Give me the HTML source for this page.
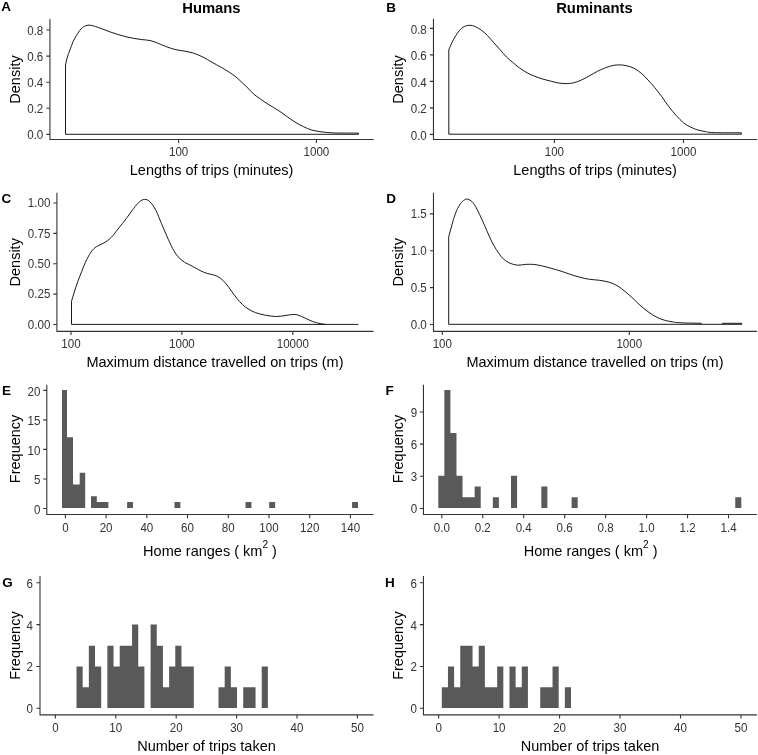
<!DOCTYPE html>
<html><head><meta charset="utf-8"><title>Figure</title>
<style>
html,body{margin:0;padding:0;background:#fff;}
body{width:758px;height:755px;overflow:hidden;}
svg{display:block;will-change:transform;}
text{font-family:"Liberation Sans",sans-serif;}
.tk{font-size:12.4px;fill:#333333;}
.at{font-size:14.5px;fill:#000;}
.tt{font-size:14.8px;font-weight:bold;fill:#000;}
.pl{font-size:13.5px;font-weight:bold;fill:#000;}
</style></head>
<body>
<svg width="758" height="755" viewBox="0 0 758 755">
<rect width="758" height="755" fill="#fff"/>
<path d="M49.95 19.6V139.45H373.1" fill="none" stroke="#000" stroke-width="1.1" stroke-linecap="square" stroke-opacity="0.8"/>
<path d="M46.35 134.4H49.95M46.35 108.3H49.95M46.35 82.2H49.95M46.35 56.1H49.95M46.35 30H49.95" stroke="#333" stroke-width="1.1"/>
<text transform="translate(43.3 139.45) scale(0.935 1)" class="tk" text-anchor="end">0.0</text>
<text transform="translate(43.3 113.35) scale(0.935 1)" class="tk" text-anchor="end">0.2</text>
<text transform="translate(43.3 87.25) scale(0.935 1)" class="tk" text-anchor="end">0.4</text>
<text transform="translate(43.3 61.15) scale(0.935 1)" class="tk" text-anchor="end">0.6</text>
<text transform="translate(43.3 35.05) scale(0.935 1)" class="tk" text-anchor="end">0.8</text>
<path d="M178.65 139.45V143.05M316.4 139.45V143.05" stroke="#333" stroke-width="1.1"/>
<text transform="translate(178.65 155.95) scale(0.935 1)" class="tk" text-anchor="middle">100</text>
<text transform="translate(316.4 155.95) scale(0.935 1)" class="tk" text-anchor="middle">1000</text>
<text x="211.6" y="175" class="at" text-anchor="middle">Lengths of trips (minutes)</text>
<text transform="translate(20.1 79.5) rotate(-90)" class="at" text-anchor="middle">Density</text>
<path d="M358.5 134.3H65.5V65.1C66.1 62.47 66.57 59.72 67.3 57.2C68.03 54.68 68.92 52.63 69.9 50C70.88 47.37 72.1 43.83 73.2 41.4C74.3 38.97 75.18 37.48 76.5 35.4C77.82 33.32 79.57 30.5 81.1 28.9C82.63 27.3 84.17 26.42 85.7 25.8C87.23 25.18 88.65 25.07 90.3 25.2C91.95 25.33 93.62 25.98 95.6 26.6C97.58 27.22 99.78 28.02 102.2 28.9C104.62 29.78 107.47 30.97 110.1 31.9C112.73 32.83 115.35 33.68 118 34.5C120.65 35.32 123.35 36.15 126 36.8C128.65 37.45 131.27 37.93 133.9 38.4C136.53 38.87 139.12 39.25 141.8 39.6C144.48 39.95 147.32 39.9 150 40.5C152.68 41.1 155.27 42.2 157.9 43.2C160.53 44.2 162.93 45.45 165.8 46.5C168.67 47.55 172.02 48.73 175.1 49.5C178.18 50.27 181.23 50.5 184.3 51.1C187.37 51.7 190.42 52.12 193.5 53.1C196.58 54.08 199.72 55.47 202.8 57C205.88 58.53 208.93 60.58 212 62.3C215.07 64.02 218.33 65.65 221.2 67.3C224.07 68.95 226.77 70.62 229.2 72.2C231.63 73.78 233.62 75.03 235.8 76.8C237.98 78.57 240.12 80.75 242.3 82.8C244.48 84.85 247 87.22 248.9 89.1C250.8 90.98 251.75 92.42 253.7 94.1C255.65 95.78 258.02 97.4 260.6 99.2C263.18 101 266.35 103.1 269.2 104.9C272.05 106.7 274.85 108.15 277.7 110C280.55 111.85 283.43 114 286.3 116C289.17 118 292.03 120.22 294.9 122C297.77 123.78 300.65 125.35 303.5 126.7C306.35 128.05 308.93 129.23 312 130.1C315.07 130.97 318.73 131.45 321.9 131.9C325.07 132.35 327.98 132.61 331 132.8C334.02 132.99 335.42 133 340 133.05C344.58 133.1 352.33 133.08 358.5 133.1V134.3" fill="none" stroke="#000" stroke-width="1.0" stroke-linejoin="round" stroke-opacity="0.9"/>
<text x="211.4" y="12.9" class="tt" text-anchor="middle">Humans</text>
<text x="1.2" y="11.3" class="pl">A</text>
<path d="M433.47 19.5V139.5H756.5" fill="none" stroke="#000" stroke-width="1.1" stroke-linecap="square" stroke-opacity="0.8"/>
<path d="M429.87 134.35H433.47M429.87 107.86H433.47M429.87 81.37H433.47M429.87 54.88H433.47M429.87 28.39H433.47" stroke="#333" stroke-width="1.1"/>
<text transform="translate(426.8 139.5) scale(0.935 1)" class="tk" text-anchor="end">0.0</text>
<text transform="translate(426.8 113.01) scale(0.935 1)" class="tk" text-anchor="end">0.2</text>
<text transform="translate(426.8 86.52) scale(0.935 1)" class="tk" text-anchor="end">0.4</text>
<text transform="translate(426.8 60.03) scale(0.935 1)" class="tk" text-anchor="end">0.6</text>
<text transform="translate(426.8 33.54) scale(0.935 1)" class="tk" text-anchor="end">0.8</text>
<path d="M554.4 139.5V143.1M683.5 139.5V143.1" stroke="#333" stroke-width="1.1"/>
<text transform="translate(554.4 156) scale(0.935 1)" class="tk" text-anchor="middle">100</text>
<text transform="translate(683.5 156) scale(0.935 1)" class="tk" text-anchor="middle">1000</text>
<text x="595.1" y="175" class="at" text-anchor="middle">Lengths of trips (minutes)</text>
<text transform="translate(403.4 79.5) rotate(-90)" class="at" text-anchor="middle">Density</text>
<path d="M741.4 134.2H448.8V49.8C449.83 47.43 450.73 45.07 451.9 42.7C453.07 40.33 454.35 37.85 455.8 35.6C457.25 33.35 459.02 30.78 460.6 29.2C462.18 27.62 463.72 26.75 465.3 26.1C466.88 25.45 468.52 25.25 470.1 25.3C471.68 25.35 472.95 25.62 474.8 26.4C476.65 27.18 479.08 28.47 481.2 30C483.32 31.53 485.4 33.48 487.5 35.6C489.6 37.72 491.68 40.33 493.8 42.7C495.92 45.07 498.08 47.42 500.2 49.8C502.32 52.18 504.4 54.88 506.5 57C508.6 59.12 510.68 60.72 512.8 62.5C514.92 64.28 516.82 65.98 519.2 67.7C521.58 69.42 524.47 71.35 527.1 72.8C529.73 74.25 532.37 75.35 535 76.4C537.63 77.45 540.33 78.33 542.9 79.1C545.47 79.87 547.9 80.37 550.4 81C552.9 81.63 555.33 82.47 557.9 82.9C560.47 83.33 563.17 83.62 565.8 83.6C568.43 83.58 571.05 83.42 573.7 82.8C576.35 82.18 579.05 81.08 581.7 79.9C584.35 78.72 586.97 77.13 589.6 75.7C592.23 74.27 594.87 72.62 597.5 71.3C600.13 69.98 602.77 68.78 605.4 67.8C608.03 66.82 610.92 65.88 613.3 65.4C615.68 64.92 617.58 64.87 619.7 64.9C621.82 64.93 623.63 65.05 626 65.6C628.37 66.15 631.27 66.85 633.9 68.2C636.53 69.55 639.45 71.73 641.8 73.7C644.15 75.67 645.88 77.73 648 80C650.12 82.27 652.2 84.52 654.5 87.3C656.8 90.08 659.38 93.43 661.8 96.7C664.22 99.97 666.58 103.75 669 106.9C671.42 110.05 673.88 112.95 676.3 115.6C678.72 118.25 681.08 120.87 683.5 122.8C685.92 124.73 688.37 125.98 690.8 127.2C693.23 128.42 695.68 129.37 698.1 130.1C700.52 130.83 703.32 131.22 705.3 131.6C707.28 131.98 707.55 132.21 710 132.4C712.45 132.59 714.77 132.68 720 132.75C725.23 132.82 734.27 132.78 741.4 132.8V134.2" fill="none" stroke="#000" stroke-width="1.0" stroke-linejoin="round" stroke-opacity="0.9"/>
<text x="594.4" y="12.9" class="tt" text-anchor="middle">Ruminants</text>
<text x="386.3" y="11.5" class="pl">B</text>
<path d="M56.9 193.2V331.4H373" fill="none" stroke="#000" stroke-width="1.1" stroke-linecap="square" stroke-opacity="0.8"/>
<path d="M53.3 324.45H56.9M53.3 294.1H56.9M53.3 263.75H56.9M53.3 233.4H56.9M53.3 203H56.9" stroke="#333" stroke-width="1.1"/>
<text transform="translate(50.4 328.8) scale(0.935 1)" class="tk" text-anchor="end">0.00</text>
<text transform="translate(50.4 298.45) scale(0.935 1)" class="tk" text-anchor="end">0.25</text>
<text transform="translate(50.4 268.1) scale(0.935 1)" class="tk" text-anchor="end">0.50</text>
<text transform="translate(50.4 237.75) scale(0.935 1)" class="tk" text-anchor="end">0.75</text>
<text transform="translate(50.4 207.35) scale(0.935 1)" class="tk" text-anchor="end">1.00</text>
<path d="M71 331.4V335M181.9 331.4V335M292.8 331.4V335" stroke="#333" stroke-width="1.1"/>
<text transform="translate(71 347.9) scale(0.935 1)" class="tk" text-anchor="middle">100</text>
<text transform="translate(181.9 347.9) scale(0.935 1)" class="tk" text-anchor="middle">1000</text>
<text transform="translate(292.8 347.9) scale(0.935 1)" class="tk" text-anchor="middle">10000</text>
<text x="215" y="366.9" class="at" text-anchor="middle">Maximum distance travelled on trips (m)</text>
<text transform="translate(20.1 262.3) rotate(-90)" class="at" text-anchor="middle">Density</text>
<path d="M325.5 324.4H71.5V301.3C72.43 298.2 73.22 295.4 74.3 292C75.38 288.6 76.77 284.3 78 280.9C79.23 277.5 80.47 274.7 81.7 271.6C82.93 268.5 83.85 265.55 85.4 262.3C86.95 259.05 89.15 254.72 91 252.1C92.85 249.48 94.35 248.13 96.5 246.6C98.65 245.07 101.42 244.45 103.9 242.9C106.38 241.35 108.92 239.78 111.4 237.3C113.88 234.82 116.33 231.1 118.8 228C121.27 224.9 123.73 221.95 126.2 218.7C128.67 215.45 131.43 211.27 133.6 208.5C135.77 205.73 137.35 203.63 139.2 202.1C141.05 200.57 142.85 199.3 144.7 199.3C146.55 199.3 148.43 200.25 150.3 202.1C152.17 203.95 154.05 206.85 155.9 210.4C157.75 213.95 159.55 219.07 161.4 223.4C163.25 227.73 165.13 232.23 167 236.4C168.87 240.57 170.75 245 172.6 248.4C174.45 251.8 176.1 254.48 178.1 256.8C180.1 259.12 182.62 260.93 184.6 262.3C186.58 263.67 187.43 263.63 190 265C192.57 266.37 197.1 269.08 200 270.5C202.9 271.92 204.93 272.7 207.4 273.5C209.87 274.3 212.65 274.53 214.8 275.3C216.95 276.07 218.45 276.72 220.3 278.1C222.15 279.48 224.05 281.45 225.9 283.6C227.75 285.75 229.57 288.53 231.4 291C233.23 293.47 235.05 296.15 236.9 298.4C238.75 300.65 240.65 302.75 242.5 304.5C244.35 306.25 245.85 307.55 248 308.9C250.15 310.25 252.63 311.58 255.4 312.6C258.17 313.62 261.22 314.35 264.6 315C267.98 315.65 272.3 316.4 275.7 316.5C279.1 316.6 282.22 315.93 285 315.6C287.78 315.27 290.25 314.6 292.4 314.5C294.55 314.4 295.75 314.38 297.9 315C300.05 315.62 302.83 317.12 305.3 318.2C307.77 319.28 310.23 320.6 312.7 321.5C315.17 322.4 317.97 323.12 320.1 323.6C322.23 324.08 323.7 324.13 325.5 324.4" fill="none" stroke="#000" stroke-width="1.0" stroke-linejoin="round" stroke-opacity="0.9"/>
<path d="M325.5 324.4H358.4" stroke="#000" stroke-width="1" stroke-opacity="0.9"/>
<text x="1.6" y="203.2" class="pl">C</text>
<path d="M433.47 193.2V331.4H756.5" fill="none" stroke="#000" stroke-width="1.1" stroke-linecap="square" stroke-opacity="0.8"/>
<path d="M429.87 324.45H433.47M429.87 287.6H433.47M429.87 250.7H433.47M429.87 213.9H433.47" stroke="#333" stroke-width="1.1"/>
<text transform="translate(426.8 329) scale(0.935 1)" class="tk" text-anchor="end">0.0</text>
<text transform="translate(426.8 292.15) scale(0.935 1)" class="tk" text-anchor="end">0.5</text>
<text transform="translate(426.8 255.25) scale(0.935 1)" class="tk" text-anchor="end">1.0</text>
<text transform="translate(426.8 218.45) scale(0.935 1)" class="tk" text-anchor="end">1.5</text>
<path d="M442.3 331.4V335M629.3 331.4V335" stroke="#333" stroke-width="1.1"/>
<text transform="translate(442.3 347.9) scale(0.935 1)" class="tk" text-anchor="middle">100</text>
<text transform="translate(629.3 347.9) scale(0.935 1)" class="tk" text-anchor="middle">1000</text>
<text x="595" y="366.9" class="at" text-anchor="middle">Maximum distance travelled on trips (m)</text>
<text transform="translate(403.4 262.3) rotate(-90)" class="at" text-anchor="middle">Density</text>
<path d="M701 324.3H448.7V236.7C449.5 233.8 450.3 230.9 451.1 228C451.9 225.1 452.58 222.2 453.5 219.3C454.42 216.4 455.42 213.23 456.6 210.6C457.78 207.97 459.28 205.3 460.6 203.5C461.92 201.7 463.32 200.52 464.5 199.8C465.68 199.08 466.5 198.93 467.7 199.2C468.9 199.47 470.38 200.17 471.7 201.4C473.02 202.63 474.28 204.42 475.6 206.6C476.92 208.78 478.15 211.47 479.6 214.5C481.05 217.53 482.72 221.23 484.3 224.8C485.88 228.37 487.52 232.47 489.1 235.9C490.68 239.33 492.22 242.55 493.8 245.4C495.38 248.25 497.02 250.75 498.6 253C500.18 255.25 501.45 257.22 503.3 258.9C505.15 260.58 507.32 262.05 509.7 263.1C512.08 264.15 514.97 264.98 517.6 265.2C520.23 265.42 522.87 264.53 525.5 264.4C528.13 264.27 530.77 264.18 533.4 264.4C536.03 264.62 538.4 265.07 541.3 265.7C544.2 266.33 547.7 267.35 550.8 268.2C553.9 269.05 556.73 269.8 559.9 270.8C563.07 271.8 566.5 273.13 569.8 274.2C573.1 275.27 576.4 276.35 579.7 277.2C583 278.05 586.3 278.78 589.6 279.3C592.9 279.82 596.2 279.8 599.5 280.3C602.8 280.8 606.43 281.4 609.4 282.3C612.37 283.2 614.67 284.15 617.3 285.7C619.93 287.25 622.57 289.47 625.2 291.6C627.83 293.73 630.47 296.08 633.1 298.5C635.73 300.92 638.35 303.78 641 306.1C643.65 308.42 646.35 310.53 649 312.4C651.65 314.27 654.27 315.98 656.9 317.3C659.53 318.62 662.17 319.53 664.8 320.3C667.43 321.07 670.73 321.53 672.7 321.9C674.67 322.27 674.4 322.32 676.6 322.5C678.8 322.68 681.83 322.88 685.9 323C689.97 323.12 695.97 323.17 701 323.25L702 324.3M722 324.3L722.5 323.3H741.8V324.3" fill="none" stroke="#000" stroke-width="1.0" stroke-linejoin="round" stroke-opacity="0.9"/>
<path d="M701 324.3H741.8" stroke="#000" stroke-width="1" stroke-opacity="0.9"/>
<text x="386.3" y="203.2" class="pl">D</text>
<path d="M46.8 385.2V514.55H372.9" fill="none" stroke="#000" stroke-width="1.1" stroke-linecap="square" stroke-opacity="0.8"/>
<path d="M43.2 508.46H46.8M43.2 478.94H46.8M43.2 449.42H46.8M43.2 419.9H46.8M43.2 390.39H46.8" stroke="#333" stroke-width="1.1"/>
<text transform="translate(40.4 513.86) scale(0.935 1)" class="tk" text-anchor="end">0</text>
<text transform="translate(40.4 484.34) scale(0.935 1)" class="tk" text-anchor="end">5</text>
<text transform="translate(40.4 454.82) scale(0.935 1)" class="tk" text-anchor="end">10</text>
<text transform="translate(40.4 425.3) scale(0.935 1)" class="tk" text-anchor="end">15</text>
<text transform="translate(40.4 395.79) scale(0.935 1)" class="tk" text-anchor="end">20</text>
<path d="M65.38 514.55V518.15M106.1 514.55V518.15M146.82 514.55V518.15M187.55 514.55V518.15M228.27 514.55V518.15M268.99 514.55V518.15M309.71 514.55V518.15M350.43 514.55V518.15" stroke="#333" stroke-width="1.1"/>
<text transform="translate(65.38 531.85) scale(0.935 1)" class="tk" text-anchor="middle">0</text>
<text transform="translate(106.1 531.85) scale(0.935 1)" class="tk" text-anchor="middle">20</text>
<text transform="translate(146.82 531.85) scale(0.935 1)" class="tk" text-anchor="middle">40</text>
<text transform="translate(187.55 531.85) scale(0.935 1)" class="tk" text-anchor="middle">60</text>
<text transform="translate(228.27 531.85) scale(0.935 1)" class="tk" text-anchor="middle">80</text>
<text transform="translate(268.99 531.85) scale(0.935 1)" class="tk" text-anchor="middle">100</text>
<text transform="translate(309.71 531.85) scale(0.935 1)" class="tk" text-anchor="middle">120</text>
<text transform="translate(350.43 531.85) scale(0.935 1)" class="tk" text-anchor="middle">140</text>
<text x="210" y="555.6" class="at" text-anchor="middle">Home ranges ( km<tspan dy="-8.1" font-size="10.15">2</tspan><tspan dy="8.1"> )</tspan></text>
<text transform="translate(20.1 448.9) rotate(-90)" class="at" text-anchor="middle">Frequency</text>
<path d="M62 508V390.1H67V508ZM67 508V437.26H73V508ZM73 508V484.42H79.7V508ZM79.7 508V472.63H85.2V508ZM91 508V496.21H96.8V508ZM96.8 508V502.11H102.6V508ZM102.6 508V502.11H108.4V508Z" fill="#595959"/>
<path d="M127.12 508V502.11H133.04V508ZM174.48 508V502.11H180.4V508ZM245.52 508V502.11H251.44V508ZM269.2 508V502.11H275.12V508ZM352.08 508V502.11H358V508Z" fill="#595959"/>
<text x="1.9" y="395" class="pl">E</text>
<path d="M423.45 385.2V514.55H756.3" fill="none" stroke="#000" stroke-width="1.1" stroke-linecap="square" stroke-opacity="0.8"/>
<path d="M419.85 508.46H423.45M419.85 476.3H423.45M419.85 444.17H423.45M419.85 412.02H423.45" stroke="#333" stroke-width="1.1"/>
<text transform="translate(417.2 513.36) scale(0.935 1)" class="tk" text-anchor="end">0</text>
<text transform="translate(417.2 481.2) scale(0.935 1)" class="tk" text-anchor="end">3</text>
<text transform="translate(417.2 449.07) scale(0.935 1)" class="tk" text-anchor="end">6</text>
<text transform="translate(417.2 416.92) scale(0.935 1)" class="tk" text-anchor="end">9</text>
<path d="M441.8 514.55V518.15M482.76 514.55V518.15M523.72 514.55V518.15M564.68 514.55V518.15M605.64 514.55V518.15M646.6 514.55V518.15M687.56 514.55V518.15M728.52 514.55V518.15" stroke="#333" stroke-width="1.1"/>
<text transform="translate(441.8 531.85) scale(0.935 1)" class="tk" text-anchor="middle">0.0</text>
<text transform="translate(482.76 531.85) scale(0.935 1)" class="tk" text-anchor="middle">0.2</text>
<text transform="translate(523.72 531.85) scale(0.935 1)" class="tk" text-anchor="middle">0.4</text>
<text transform="translate(564.68 531.85) scale(0.935 1)" class="tk" text-anchor="middle">0.6</text>
<text transform="translate(605.64 531.85) scale(0.935 1)" class="tk" text-anchor="middle">0.8</text>
<text transform="translate(646.6 531.85) scale(0.935 1)" class="tk" text-anchor="middle">1.0</text>
<text transform="translate(687.56 531.85) scale(0.935 1)" class="tk" text-anchor="middle">1.2</text>
<text transform="translate(728.52 531.85) scale(0.935 1)" class="tk" text-anchor="middle">1.4</text>
<text x="590.6" y="555.6" class="at" text-anchor="middle">Home ranges ( km<tspan dy="-8.1" font-size="10.15">2</tspan><tspan dy="8.1"> )</tspan></text>
<text transform="translate(403.2 448.9) rotate(-90)" class="at" text-anchor="middle">Frequency</text>
<path d="M438.3 508V475.84H444.36V508ZM444.36 508V390.08H450.42V508ZM450.42 508V432.96H456.48V508ZM456.48 508V475.84H462.54V508ZM462.54 508V497.28H468.6V508ZM468.6 508V497.28H474.66V508ZM474.66 508V486.56H480.72V508ZM492.84 508V497.28H498.9V508ZM511.02 508V475.84H517.08V508ZM541.32 508V486.56H547.38V508ZM571.62 508V497.28H577.68V508ZM735.24 508V497.28H741.3V508Z" fill="#595959"/>
<text x="385.6" y="395" class="pl">F</text>
<path d="M40 576.6V714.9H373" fill="none" stroke="#000" stroke-width="1.1" stroke-linecap="square" stroke-opacity="0.8"/>
<path d="M36.4 708.2H40M36.4 666.5H40M36.4 624.6H40M36.4 582.8H40" stroke="#333" stroke-width="1.1"/>
<text transform="translate(33 713.1) scale(0.935 1)" class="tk" text-anchor="end">0</text>
<text transform="translate(33 671.4) scale(0.935 1)" class="tk" text-anchor="end">2</text>
<text transform="translate(33 629.5) scale(0.935 1)" class="tk" text-anchor="end">4</text>
<text transform="translate(33 587.7) scale(0.935 1)" class="tk" text-anchor="end">6</text>
<path d="M55.38 714.9V718.5M115.79 714.9V718.5M176.2 714.9V718.5M236.61 714.9V718.5M297.02 714.9V718.5M357.43 714.9V718.5" stroke="#333" stroke-width="1.1"/>
<text transform="translate(55.38 732.3) scale(0.935 1)" class="tk" text-anchor="middle">0</text>
<text transform="translate(115.79 732.3) scale(0.935 1)" class="tk" text-anchor="middle">10</text>
<text transform="translate(176.2 732.3) scale(0.935 1)" class="tk" text-anchor="middle">20</text>
<text transform="translate(236.61 732.3) scale(0.935 1)" class="tk" text-anchor="middle">30</text>
<text transform="translate(297.02 732.3) scale(0.935 1)" class="tk" text-anchor="middle">40</text>
<text transform="translate(357.43 732.3) scale(0.935 1)" class="tk" text-anchor="middle">50</text>
<text x="206.5" y="751" class="at" text-anchor="middle">Number of trips taken</text>
<text transform="translate(20.1 645.6) rotate(-90)" class="at" text-anchor="middle">Frequency</text>
<path d="M76.5 708V666.4H82.67V708ZM82.67 708V687.2H88.85V708ZM88.85 708V645.7H95.02V708ZM95.02 708V666.4H101.2V708ZM107.37 708V645.7H113.54V708ZM113.54 708V666.4H119.72V708ZM119.72 708V645.7H125.89V708ZM125.89 708V645.7H132.07V708ZM132.07 708V624.5H138.24V708ZM138.24 708V666.4H144.41V708ZM150.59 708V624.5H156.76V708ZM156.76 708V645.7H162.94V708ZM162.94 708V687.2H169.11V708ZM169.11 708V666.4H175.28V708ZM175.28 708V645.7H181.46V708ZM181.46 708V666.4H187.63V708ZM187.63 708V666.4H193.81V708ZM218.5 708V687.2H224.68V708ZM224.68 708V666.4H230.85V708ZM230.85 708V687.2H237.02V708ZM243.2 708V687.2H249.37V708ZM249.37 708V687.2H255.55V708ZM261.72 708V666.4H267.89V708Z" fill="#595959"/>
<text x="2.2" y="587" class="pl">G</text>
<path d="M423.45 576.6V714.9H756.4" fill="none" stroke="#000" stroke-width="1.1" stroke-linecap="square" stroke-opacity="0.8"/>
<path d="M419.85 708.2H423.45M419.85 666.5H423.45M419.85 624.6H423.45M419.85 582.8H423.45" stroke="#333" stroke-width="1.1"/>
<text transform="translate(417 713.1) scale(0.935 1)" class="tk" text-anchor="end">0</text>
<text transform="translate(417 671.4) scale(0.935 1)" class="tk" text-anchor="end">2</text>
<text transform="translate(417 629.5) scale(0.935 1)" class="tk" text-anchor="end">4</text>
<text transform="translate(417 587.7) scale(0.935 1)" class="tk" text-anchor="end">6</text>
<path d="M438.64 714.9V718.5M499.1 714.9V718.5M559.57 714.9V718.5M620.03 714.9V718.5M680.5 714.9V718.5M740.96 714.9V718.5" stroke="#333" stroke-width="1.1"/>
<text transform="translate(438.64 732.3) scale(0.935 1)" class="tk" text-anchor="middle">0</text>
<text transform="translate(499.1 732.3) scale(0.935 1)" class="tk" text-anchor="middle">10</text>
<text transform="translate(559.57 732.3) scale(0.935 1)" class="tk" text-anchor="middle">20</text>
<text transform="translate(620.03 732.3) scale(0.935 1)" class="tk" text-anchor="middle">30</text>
<text transform="translate(680.5 732.3) scale(0.935 1)" class="tk" text-anchor="middle">40</text>
<text transform="translate(740.96 732.3) scale(0.935 1)" class="tk" text-anchor="middle">50</text>
<text x="590" y="751" class="at" text-anchor="middle">Number of trips taken</text>
<text transform="translate(403.2 645.6) rotate(-90)" class="at" text-anchor="middle">Frequency</text>
<path d="M441.8 708V687.2H447.95V708ZM447.95 708V666.4H454.1V708ZM454.1 708V687.2H460.26V708ZM460.26 708V645.7H466.41V708ZM466.41 708V645.7H472.56V708ZM472.56 708V666.4H478.71V708ZM478.71 708V645.7H484.86V708ZM484.86 708V687.2H491.02V708ZM491.02 708V687.2H497.17V708ZM497.17 708V666.4H503.32V708ZM509.47 708V666.4H515.62V708ZM515.62 708V687.2H521.78V708ZM521.78 708V666.4H527.93V708ZM540.23 708V687.2H546.38V708ZM546.38 708V687.2H552.54V708ZM552.54 708V666.4H558.69V708ZM564.84 708V687.2H570.99V708Z" fill="#595959"/>
<text x="385" y="587" class="pl">H</text>
</svg>
</body></html>
